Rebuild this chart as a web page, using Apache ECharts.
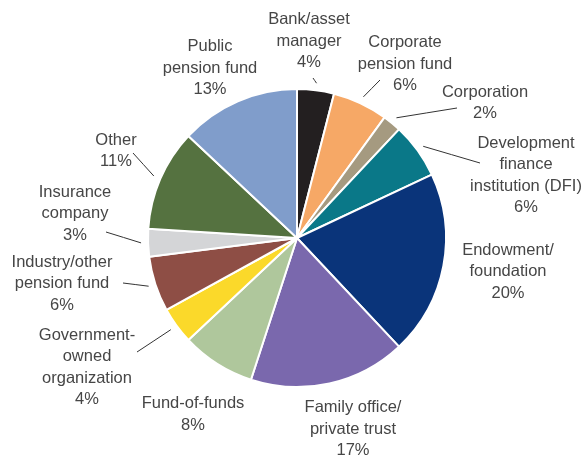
<!DOCTYPE html>
<html>
<head>
<meta charset="utf-8">
<script src="https://cdn.jsdelivr.net/npm/echarts@6/dist/echarts.min.js"></script>
<style>html,body{margin:0;padding:0;background:#fff}#c{width:582px;height:458px}</style>
</head>
<body>
<div id="c"></div>
<script>
// Data
const categories = [
  'Bank/asset\nmanager',
  'Corporate\npension fund',
  'Corporation',
  'Development\nfinance\ninstitution (DFI)',
  'Endowment/\nfoundation',
  'Family office/\nprivate trust',
  'Fund-of-funds',
  'Government-\nowned\norganization',
  'Industry/other\npension fund',
  'Insurance\ncompany',
  'Other',
  'Public\npension fund'
];
const shares = [4, 6, 2, 6, 20, 17, 8, 4, 6, 3, 11, 13];

// Styles / layout (not data)
const colors = ['#231f20','#f6a866','#a59a80','#0a7888','#0a347a','#7a68ad','#afc79c','#fbd92a','#8e4e45','#d4d5d7','#557240','#809dcb'];
const labelAnchors = [
  [309, 41], [405, 64], [485, 103], [526, 175.5], [508, 271.5], [353, 429],
  [193, 414.5], [87, 367.5], [62, 283.5], [75, 213.5], [116, 151], [210, 68]
];
// outer end of each leader line (null = no leader line)
const leaderEnds = [
  [313, 78], [380, 80], [457, 108], [480, 163], null, null,
  null, [137, 352], [123, 283], [106, 232], [133, 153], null
];
const CX = 297, CY = 238, R = 149, LEADER_R = 156;

const total = shares.reduce((a, b) => a + b, 0);
const midAngles = [];
{ let acc = 0; shares.forEach(v => { midAngles.push((acc + v / 2) / total * 2 * Math.PI); acc += v; }); }

const chart = echarts.init(document.getElementById('c'), null, {renderer: 'canvas'});
chart.setOption({
  animation: false,
  color: colors,
  series: [{
    type: 'pie',
    center: [CX, CY],
    radius: [0, R],
    startAngle: 90,
    clockwise: true,
    avoidLabelOverlap: false,
    itemStyle: {borderColor: '#ffffff', borderWidth: 2},
    label: {
      show: true,
      position: 'outside',
      color: '#464646',
      fontFamily: 'Liberation Sans, Arial, sans-serif',
      fontSize: 16.5,
      lineHeight: 21.5,
      align: 'center',
      formatter: p => p.name + '\n' + p.value + '%'
    },
    labelLine: {show: true, smooth: false, lineStyle: {color: '#333333', width: 1}},
    labelLayout: p => {
      const i = p.dataIndex;
      const out = {
        x: labelAnchors[i][0],
        y: labelAnchors[i][1],
        align: 'center',
        verticalAlign: 'middle'
      };
      const e = leaderEnds[i];
      if (e) {
        const a = midAngles[i];
        const s = [CX + LEADER_R * Math.sin(a), CY - LEADER_R * Math.cos(a)];
        out.labelLinePoints = [s, [(s[0] + e[0]) / 2, (s[1] + e[1]) / 2], e];
      }
      return out;
    },
    emphasis: {disabled: true},
    data: categories.map((n, i) => ({
      name: n,
      value: shares[i],
      labelLine: {show: !!leaderEnds[i]}
    }))
  }]
});
</script>
</body>
</html>
